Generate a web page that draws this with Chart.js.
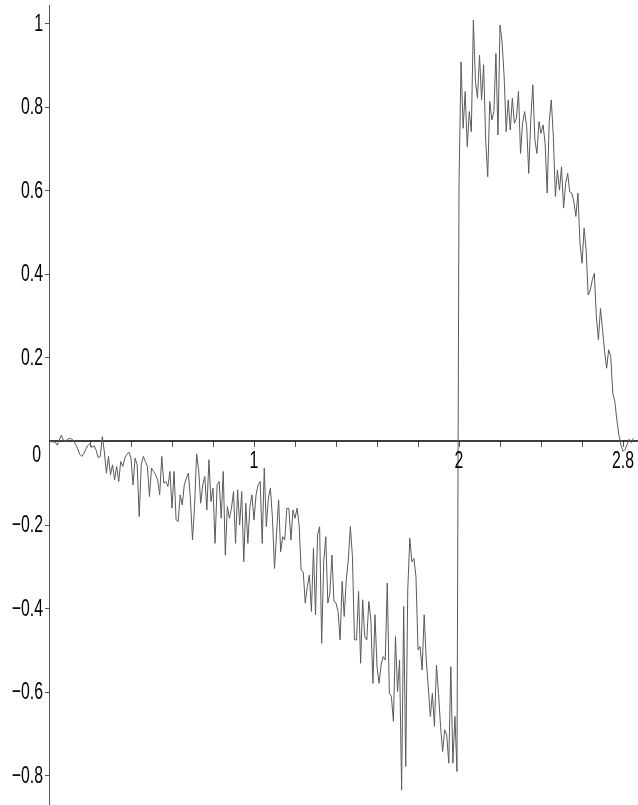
<!DOCTYPE html>
<html>
<head>
<meta charset="utf-8">
<script src="https://cdn.jsdelivr.net/npm/chart.js@4.4.1/dist/chart.umd.min.js"></script>
<style>
  html, body { margin: 0; padding: 0; background: #fff; }
  canvas { display: block; }
</style>
</head>
<body>
<canvas id="plot" width="638" height="805"></canvas>
<script>
// sample spacing along x
const STEP = 0.01;

// y values, x = 0.00 .. 0.59
const ySeg1 = [
  0, -0.002, -0.002, -0.003, -0.01, 0.002, 0.014, 0.002, -0.002, 0.004,
  0.006, 0.005, 0, -0.008, -0.019, -0.032, -0.037, -0.03, -0.019, -0.011,
  -0.006, -0.016, -0.011, -0.022, -0.04, -0.037, 0.01, -0.026, -0.077, -0.037,
  -0.081, -0.057, -0.093, -0.061, -0.097, -0.049, -0.061, -0.041, -0.032, -0.027,
  -0.041, -0.105, -0.041, -0.057, -0.181, -0.057, -0.037, -0.049, -0.061, -0.133,
  -0.065, -0.073, -0.081, -0.093, -0.129, -0.037, -0.101, -0.097, -0.109, -0.073
];
// x = 0.60 .. 1.27
const ySeg2 = [
  -0.161, -0.073, -0.189, -0.193, -0.129, -0.153, -0.105, -0.089, -0.077, -0.141,
  -0.237, -0.157, -0.031, -0.069, -0.149, -0.105, -0.085, -0.165, -0.045, -0.145,
  -0.113, -0.245, -0.105, -0.097, -0.185, -0.073, -0.273, -0.157, -0.185, -0.161,
  -0.121, -0.245, -0.117, -0.201, -0.121, -0.289, -0.149, -0.245, -0.157, -0.129,
  -0.189, -0.129, -0.105, -0.097, -0.245, -0.065, -0.205, -0.137, -0.113, -0.185,
  -0.305, -0.221, -0.141, -0.265, -0.229, -0.237, -0.161, -0.161, -0.237, -0.165,
  -0.185, -0.161, -0.201, -0.309, -0.313, -0.388, -0.348, -0.321
];
// x = 1.28 .. 1.99
const ySeg3 = [
  -0.408, -0.257, -0.416, -0.225, -0.205, -0.484, -0.289, -0.229, -0.388, -0.364,
  -0.273, -0.384, -0.388, -0.408, -0.476, -0.336, -0.42, -0.332, -0.285, -0.205,
  -0.276, -0.476, -0.476, -0.36, -0.532, -0.38, -0.468, -0.476, -0.384, -0.428,
  -0.58, -0.416, -0.54, -0.58, -0.536, -0.516, -0.524, -0.34, -0.604, -0.611,
  -0.671, -0.468, -0.6, -0.524, -0.835, -0.396, -0.779, -0.356, -0.233, -0.289,
  -0.281, -0.325, -0.5, -0.492, -0.548, -0.416, -0.524, -0.588, -0.659, -0.604,
  -0.683, -0.536, -0.604, -0.683, -0.743, -0.691, -0.703, -0.771, -0.54, -0.771,
  -0.659, -0.791
];
// x = 2.00 .. 2.85
const ySeg4 = [
  0.616, 0.907, 0.748, 0.836, 0.704, 0.788, 0.74, 1.007, 0.86, 0.82,
  0.923, 0.816, 0.9, 0.72, 0.632, 0.812, 0.768, 0.788, 0.927, 0.732,
  0.995, 0.955, 0.872, 0.74, 0.816, 0.744, 0.82, 0.76, 0.772, 0.836,
  0.688, 0.76, 0.788, 0.752, 0.64, 0.768, 0.852, 0.72, 0.688, 0.764,
  0.736, 0.756, 0.712, 0.593, 0.764, 0.816, 0.728, 0.585, 0.648, 0.6,
  0.656, 0.557, 0.616, 0.64, 0.596, 0.593, 0.573, 0.537, 0.593, 0.473,
  0.425, 0.509, 0.457, 0.349, 0.361, 0.385, 0.401, 0.297, 0.242, 0.317,
  0.266, 0.214, 0.174, 0.218, 0.202, 0.114, 0.094, 0.05, 0.014, -0.01,
  -0.025, -0.02, -0.008, 0.004, -0.004, 0.006
];

// axis ticks and labels
const xTicks = [0.2, 0.4, 0.6, 0.8, 1, 1.2, 1.4, 1.6, 1.8, 2, 2.2, 2.4, 2.6, 2.8];
const xLabelValues = [1, 2, 2.8];
const xLabelText = ['1', '2', '2.8'];
const yTicks = [1, 0.8, 0.6, 0.4, 0.2, 0, -0.2, -0.4, -0.6, -0.8];
const yLabelText = ['1', '0.8', '0.6', '0.4', '0.2', '0', '\u22120.2', '\u22120.4', '\u22120.6', '\u22120.8'];

const yValues = [...ySeg1, ...ySeg2, ...ySeg3, ...ySeg4];
const points = yValues.map((y, i) => ({ x: +(i * STEP).toFixed(2), y: y }));

const FONT = '24px "Liberation Sans", Arial, sans-serif';
const SQUEEZE = 0.66;

function squeezedText(ctx, text, x, y, align) {
  ctx.save();
  ctx.translate(x, y);
  ctx.scale(SQUEEZE, 1);
  ctx.textAlign = align;
  ctx.fillText(text, 0, 0);
  ctx.restore();
}

const axesPlugin = {
  id: 'mapleAxes',
  beforeDatasetsDraw(chart) {
    const { ctx, scales: { x, y }, chartArea } = chart;
    const x0 = x.getPixelForValue(0);
    const y0 = y.getPixelForValue(0);
    ctx.save();
    // y axis
    ctx.strokeStyle = '#555';
    ctx.lineWidth = 1;
    ctx.beginPath();
    ctx.moveTo(x0 + 0.5, chartArea.top);
    ctx.lineTo(x0 + 0.5, chartArea.bottom);
    ctx.stroke();
    yTicks.forEach(v => {
      if (v === 0) return;
      const py = Math.round(y.getPixelForValue(v)) + 0.5;
      ctx.beginPath();
      ctx.moveTo(x0 - 4, py);
      ctx.lineTo(x0 + 0.5, py);
      ctx.stroke();
    });
    // x ticks
    xTicks.forEach(v => {
      const px = Math.round(x.getPixelForValue(v)) + 0.5;
      ctx.beginPath();
      ctx.moveTo(px, y0);
      ctx.lineTo(px, y0 + 6);
      ctx.stroke();
    });
    // x axis
    ctx.strokeStyle = '#000';
    ctx.lineWidth = 1.6;
    ctx.beginPath();
    ctx.moveTo(x0, y0);
    ctx.lineTo(chartArea.right, y0);
    ctx.stroke();
    ctx.restore();
  },
  afterDraw(chart) {
    const { ctx, scales: { x, y } } = chart;
    const x0 = x.getPixelForValue(0);
    const y0 = y.getPixelForValue(0);
    ctx.save();
    ctx.fillStyle = '#000';
    ctx.font = FONT;
    ctx.textBaseline = 'middle';
    yTicks.forEach((v, i) => {
      if (v === 0) {
        squeezedText(ctx, yLabelText[i], x0 - 8, y0 + 14, 'right');
      } else {
        squeezedText(ctx, yLabelText[i], x0 - 6, y.getPixelForValue(v) + 1, 'right');
      }
    });
    xLabelValues.forEach((v, i) => {
      squeezedText(ctx, xLabelText[i], x.getPixelForValue(v), y0 + 20, 'center');
    });
    ctx.restore();
  }
};

new Chart(document.getElementById('plot').getContext('2d'), {
  type: 'line',
  data: {
    datasets: [{
      data: points,
      borderColor: '#5a5a5a',
      borderWidth: 1,
      pointRadius: 0,
      tension: 0,
      fill: false
    }]
  },
  options: {
    responsive: false,
    animation: false,
    layout: { padding: { left: 49, top: 5, right: 0, bottom: 0 } },
    plugins: { legend: { display: false }, tooltip: { enabled: false } },
    scales: {
      x: { type: 'linear', min: 0, max: 2.873, display: false },
      y: { type: 'linear', min: -0.871, max: 1.043, display: false }
    }
  },
  plugins: [axesPlugin]
});
</script>
</body>
</html>
